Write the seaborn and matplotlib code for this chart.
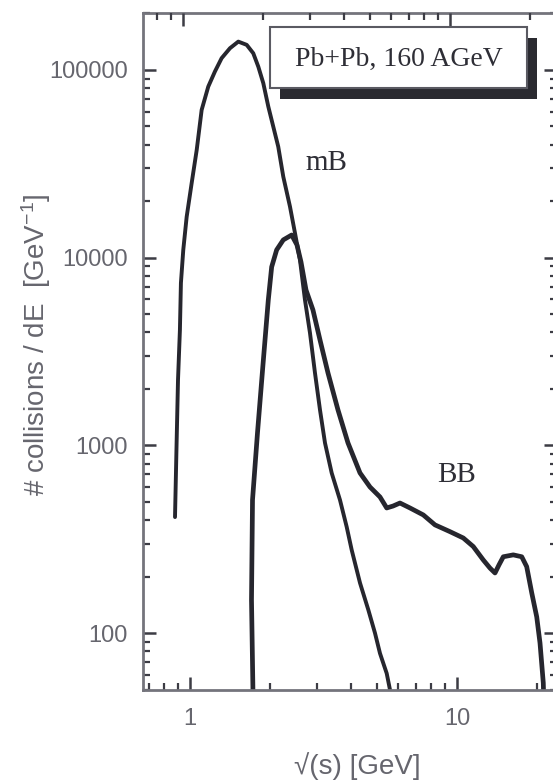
import numpy as np
import pandas as pd
import matplotlib
matplotlib.use("Agg")
import matplotlib.pyplot as plt
from matplotlib.patches import Rectangle
from matplotlib.ticker import FixedLocator, LogLocator, NullFormatter
import seaborn as sns

# Meson-baryon collision spectrum, sqrt(s) in GeV
mb_sqrt_s = [0.879, 0.890, 0.902, 0.917, 0.925, 0.944, 0.972, 1.015, 1.06, 1.106,
             1.171, 1.24, 1.314, 1.412, 1.517, 1.631, 1.726, 1.803, 1.882, 1.965,
             2.051, 2.141, 2.236, 2.369, 2.474, 2.582, 2.696, 2.815, 2.939, 3.069,
             3.204, 3.394, 3.646, 3.863, 4.034, 4.333, 4.655, 4.931, 5.148, 5.455,
             5.61]
mb_counts = [415, 945, 2230, 4120, 7330, 11000, 16500, 25000, 37500, 61200,
             81500, 98000, 115500, 130500, 141500, 136000, 122700, 104000, 85000, 63800,
             49900, 39000, 27000, 18700, 13500, 9720, 5950, 3970, 2430, 1544,
             1030, 713, 512, 368, 277, 185, 133, 100, 78, 61,
             50]

# Baryon-baryon collision spectrum
bb_sqrt_s = [1.722, 1.70, 1.715, 1.79, 1.874, 1.965, 2.023, 2.112, 2.236, 2.404,
             2.516, 2.605, 2.72, 2.888, 3.069, 3.288, 3.584, 3.907, 4.333, 4.723,
             5.148, 5.455, 5.76, 6.116, 6.668, 7.478, 8.273, 9.414, 10.56, 11.51,
             12.55, 13.29, 13.88, 14.37, 14.91, 16.25, 17.48, 18.24, 19.05, 19.89,
             20.46, 21.05, 21.1]
bb_counts = [48, 150, 512, 1164, 2617, 5950, 8925, 11000, 12430, 13200,
             11690, 9490, 6730, 5265, 3643, 2430, 1544, 1030, 713, 600,
             531, 464, 475, 493, 464, 426, 377, 347, 321, 289,
             245, 222, 209, 231, 255, 261, 255, 226, 164, 122,
             88.6, 54.2, 48]

x_ticks = [1, 10]
x_tick_labels = ["1", "10"]
y_ticks = [100, 1000, 10000, 100000]
y_tick_labels = ["100", "1000", "10000", "100000"]

mb_label = ("mB", 3.23, 31960)
bb_label = ("BB", 9.96, 695)
system_label = "Pb+Pb, 160 AGeV"

sns.set_theme(style="white")
plt.rcParams["font.family"] = ["Liberation Sans", "DejaVu Sans"]
plt.rcParams["mathtext.fontset"] = "custom"
plt.rcParams["mathtext.rm"] = "Liberation Sans"
plt.rcParams["mathtext.it"] = "Liberation Sans"

line_color = "#26262e"
spine_color = "#74747c"
tick_color = "#3c3c44"
label_color = "#66666e"
text_color = "#2e2e36"

fig = plt.figure(figsize=(5.53, 7.84), dpi=100)
ax = fig.add_axes([143 / 553, 94 / 784, 414 / 553, 677 / 784])

mb = pd.DataFrame({"sqrt_s": mb_sqrt_s, "count": mb_counts})
bb = pd.DataFrame({"sqrt_s": bb_sqrt_s, "count": bb_counts})

sns.lineplot(data=mb, x="sqrt_s", y="count", sort=False, estimator=None,
             color=line_color, lw=2.8, legend=False, ax=ax)
sns.lineplot(data=bb, x="sqrt_s", y="count", sort=False, estimator=None,
             color=line_color, lw=3.4, legend=False, ax=ax)

ax.set_xscale("log")
ax.set_yscale("log")
ax.set_xlim(0.667, 23.69)
ax.set_ylim(49.75, 2.01e5)

ax.xaxis.set_major_locator(FixedLocator(x_ticks))
ax.set_xticklabels(x_tick_labels)
ax.xaxis.set_minor_locator(LogLocator(base=10, subs=np.arange(2, 10), numticks=20))
ax.xaxis.set_minor_formatter(NullFormatter())
ax.yaxis.set_major_locator(FixedLocator(y_ticks))
ax.set_yticklabels(y_tick_labels)
ax.yaxis.set_minor_locator(LogLocator(base=10, subs=np.arange(2, 10), numticks=20))
ax.yaxis.set_minor_formatter(NullFormatter())

ax.tick_params(which="both", direction="in", left=True, right=True,
               bottom=True, top=False, color=tick_color)
ax.tick_params(which="major", length=9.5, width=1.8, labelsize=17,
               labelcolor=label_color)
ax.tick_params(which="minor", length=5, width=1.6)
ax.tick_params(axis="y", which="major", pad=11)
ax.tick_params(axis="x", which="major", pad=13)

for s in ax.spines.values():
    s.set_color(spine_color)
    s.set_linewidth(2.0)

# upper tick row
top = ax.twiny()
top.set_xscale("log")
top.set_xlim(0.708, 25.16)
top.xaxis.set_major_locator(FixedLocator(x_ticks))
top.xaxis.set_minor_locator(LogLocator(base=10, subs=np.arange(2, 10), numticks=20))
top.xaxis.set_minor_formatter(NullFormatter())
top.tick_params(which="both", direction="in", top=True, bottom=False,
                labeltop=False, labelbottom=False, color=tick_color)
top.tick_params(which="major", length=9.5, width=1.8)
top.tick_params(which="minor", length=5, width=1.6)
for s in top.spines.values():
    s.set_visible(False)

ax.set_xlabel("√(s) [GeV]", fontsize=20, color=label_color)
ax.xaxis.set_label_coords(0.517, -0.0916)
ax.set_ylabel("# collisions / dE  [GeV$^{-1}$]", fontsize=20, color=label_color)
ax.yaxis.set_label_coords(-0.217, 0.51)

# framed system label with drop shadow
bx, by, bw, bh = 0.3068, 0.8892, 0.6208, 0.0901
top.add_patch(Rectangle((bx + 0.0242, by - 0.0163), bw, bh, transform=ax.transAxes,
                        facecolor="#2a2a30", edgecolor="none", zorder=4))
top.add_patch(Rectangle((bx, by), bw, bh, transform=ax.transAxes,
                        facecolor="white", edgecolor="#5a5a62", lw=1.5, zorder=5))
top.text(0.618, 0.932, system_label, transform=ax.transAxes, ha="center",
         va="center", fontsize=20, family="Liberation Serif", color=text_color,
         zorder=6)

for name, xv, yv in (mb_label, bb_label):
    ax.text(xv, yv, name, ha="center", va="center", fontsize=21,
            family="Liberation Serif", color=text_color)

fig.savefig("out.png", dpi=100)
